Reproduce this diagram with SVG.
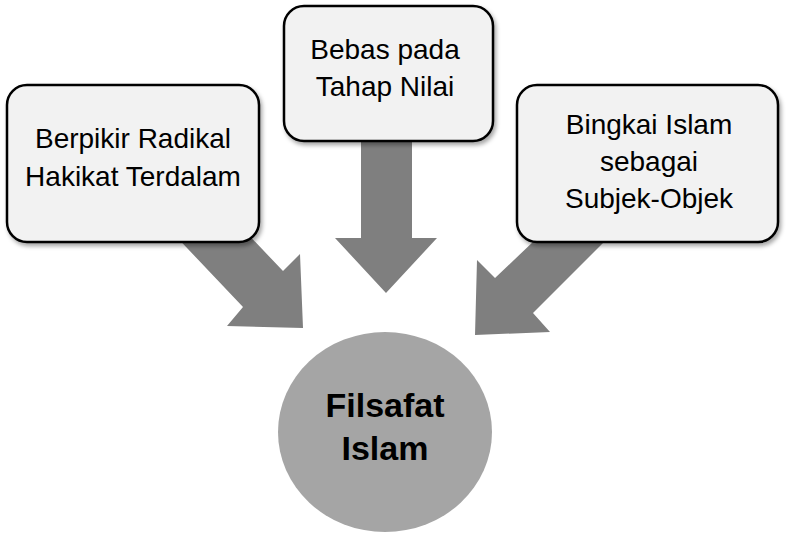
<svg xmlns="http://www.w3.org/2000/svg" width="787" height="533" viewBox="0 0 787 533">
<defs>
<filter id="sh" x="-10%" y="-10%" width="125%" height="130%">
<feDropShadow dx="2" dy="3" stdDeviation="2" flood-color="#000" flood-opacity="0.35"/>
</filter>
<style>
.box{fill:#f2f2f2;stroke:#000;stroke-width:2.5;filter:url(#sh)}
.arr{fill:#7f7f7f}
.t{font-family:"Liberation Sans",Arial,sans-serif;font-size:28px;fill:#000;text-anchor:middle}
.tb{font-family:"Liberation Sans",Arial,sans-serif;font-size:34px;font-weight:bold;fill:#000;text-anchor:middle}
</style>
</defs>
<rect width="787" height="533" fill="#fff"/>
<g id="connectors">
<polygon class="arr" points="169,229 243,307 227,326 303,328 300,254 283,271 223,208"/>
<polygon class="arr" points="361,130 412,130 412,238 437,238 386,293 335,238 361,238"/>
<polygon class="arr" points="613,233 533,313 550,332 475,335 477,260 495,278 555,221"/>
</g>
<g id="node-left">
<rect class="box" x="7" y="85" width="252" height="157" rx="20" ry="20"/>
<text class="t" x="133" y="148">Berpikir Radikal</text>
<text class="t" x="133" y="186">Hakikat Terdalam</text>
</g>
<g id="node-middle">
<rect class="box" x="284" y="6" width="209" height="135" rx="20" ry="20"/>
<text class="t" x="385" y="59">Bebas pada</text>
<text class="t" x="385" y="96">Tahap Nilai</text>
</g>
<g id="node-right">
<rect class="box" x="517" y="85" width="261" height="157" rx="20" ry="20"/>
<text class="t" x="649" y="134">Bingkai Islam</text>
<text class="t" x="649" y="171">sebagai</text>
<text class="t" x="649" y="208">Subjek-Objek</text>
</g>
<g id="node-center">
<ellipse cx="385" cy="432" rx="107" ry="100" fill="#a5a5a5"/>
<text class="tb" x="385" y="417">Filsafat</text>
<text class="tb" x="385" y="460">Islam</text>
</g>
</svg>
